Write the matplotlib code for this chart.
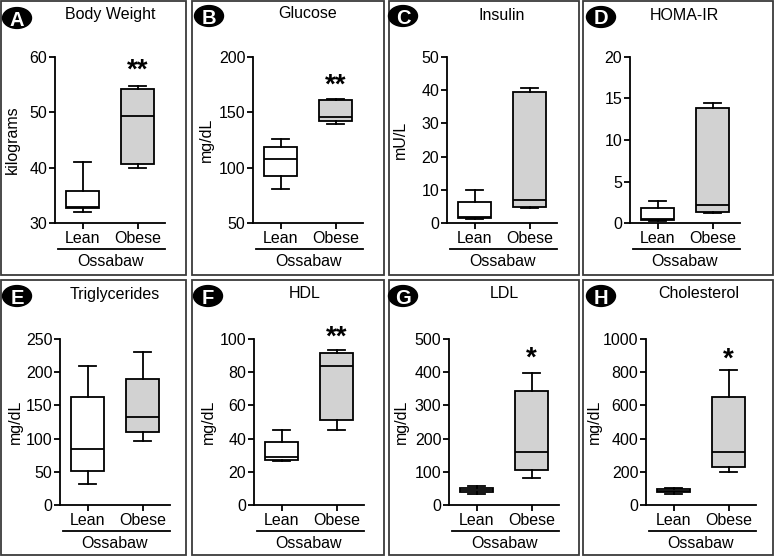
import matplotlib
matplotlib.use("Agg")
import matplotlib.pyplot as plt
from matplotlib.patches import Rectangle, Circle
from matplotlib.lines import Line2D

plt.rcParams['font.family'] = ['Liberation Sans', 'DejaVu Sans']

# ---------------- data ----------------
titles = ["Body Weight", "Glucose", "Insulin", "HOMA-IR",
          "Triglycerides", "HDL", "LDL", "Cholesterol"]
panel_letters = ["A", "B", "C", "D", "E", "F", "G", "H"]
ylabels = ["kilograms", "mg/dL", "mU/L", "", "mg/dL", "mg/dL", "mg/dL", "mg/dL"]
groups = ["Lean", "Obese"]
strain = "Ossabaw"

# box statistics: [whisker low, Q1, median, Q3, whisker high]
lean_stats = [
    [32.0, 32.7, 32.9, 35.7, 41.0],
    [80.7, 92.8, 107.8, 118.7, 125.6],
    [1.3, 1.6, 1.9, 6.4, 9.8],
    [0.2, 0.36, 0.48, 1.76, 2.7],
    [31, 51.7, 84, 162, 208.8],
    [26.8, 27.1, 28.7, 37.8, 45.2],
    [34, 39, 45, 52, 57],
    [66, 78, 86, 96, 102],
]
obese_stats = [
    [39.9, 40.7, 49.4, 54.2, 54.8],
    [139.5, 141.9, 145.8, 160.8, 162.0],
    [4.4, 4.7, 7.0, 39.5, 40.8],
    [1.2, 1.28, 2.16, 13.9, 14.5],
    [96, 109.5, 132.5, 190, 230],
    [45.2, 51.2, 83.7, 91.6, 93.4],
    [80, 106, 160, 342, 398],
    [201, 231, 319, 649, 811],
]
yticks = [
    [30, 40, 50, 60],
    [50, 100, 150, 200],
    [0, 10, 20, 30, 40, 50],
    [0, 5, 10, 15, 20],
    [0, 50, 100, 150, 200, 250],
    [0, 20, 40, 60, 80, 100],
    [0, 100, 200, 300, 400, 500],
    [0, 200, 400, 600, 800, 1000],
]
stars = ["**", "**", "", "", "", "**", "*", "*"]
star_y = [57.5, 174, None, None, None, 101, 440, 875]

# ---------------- layout (pixels) ----------------
W, H = 774, 556
fig = plt.figure(figsize=(W / 100, H / 100), dpi=100)

def fx(x):
    return x / W

def fy(y):
    return 1 - y / H

frames = [(1, 1, 186, 275), (192, 1, 384, 275), (389, 1, 579, 275), (583, 1, 773, 275),
          (1, 280, 186, 555), (192, 280, 384, 555), (389, 280, 579, 555), (583, 280, 773, 555)]
axis_left = [55, 253, 447, 630, 60, 254, 449, 646]
axis_width = 110
row_top = [57, 339]
row_bot = [223, 505]
title_pos = [(110, 14), (308, 14), (502, 15), (684, 15),
             (115, 294), (305, 294), (504, 294), (699, 294)]
circle_pos = [(17, 18), (209, 16), (403, 16), (601, 17),
              (17, 296), (208, 296), (403, 296), (601, 296)]
ylabel_x = [12, 206, 400, None, 15, 208, 401, 594]

FS = 11.5
gray = "#d2d2d2"

for i in range(8):
    x0, y0, x1, y1 = frames[i]
    fig.patches.append(Rectangle((fx(x0), fy(y1)), fx(x1) - fx(x0), fy(y0) - fy(y1),
                                 transform=fig.transFigure, fill=False,
                                 edgecolor="#3a3a3a", linewidth=1.3, zorder=0))
    r = i // 4
    top, bot = row_top[r], row_bot[r]
    L = axis_left[i]
    ax = fig.add_axes([fx(L), fy(bot), axis_width / W, (bot - top) / H])
    ls = lean_stats[i]
    os_ = obese_stats[i]
    stats = []
    for s, lab in ((ls, groups[0]), (os_, groups[1])):
        stats.append(dict(whislo=s[0], q1=s[1], med=s[2], q3=s[3], whishi=s[4],
                          fliers=[], label=lab))
    bp = ax.bxp(stats, positions=[1, 2], widths=0.6, patch_artist=True,
                showfliers=False,
                boxprops=dict(linewidth=1.3, edgecolor="black"),
                medianprops=dict(linewidth=1.3, color="black"),
                whiskerprops=dict(linewidth=1.3, color="black"),
                capprops=dict(linewidth=1.3, color="black"))
    bp['boxes'][0].set_facecolor("white")
    bp['boxes'][1].set_facecolor(gray)
    yt = yticks[i]
    ax.set_ylim(yt[0], yt[-1])
    ax.set_yticks(yt)
    ax.set_xlim(0.5, 2.5)
    ax.set_xticks([1, 2])
    ax.set_xticklabels(groups)
    for sp in ("top", "right"):
        ax.spines[sp].set_visible(False)
    for sp in ("left", "bottom"):
        ax.spines[sp].set_linewidth(1.3)
    ax.tick_params(axis="y", direction="out", length=4.5, width=1.3, pad=1, labelsize=FS)
    ax.tick_params(axis="x", direction="out", length=4, width=1.3, pad=2, labelsize=FS)
    ax.patch.set_alpha(0)

    # Ossabaw group line and label
    h = bot - top
    ax.add_line(Line2D([0.03, 1.0], [-26 / h, -26 / h], transform=ax.transAxes,
                       color="black", linewidth=1.3, clip_on=False))
    ax.text(0.5, -38 / h, strain, transform=ax.transAxes, ha="center", va="center",
            fontsize=FS)

    if stars[i]:
        ax.text(2, star_y[i], stars[i], ha="center", va="center", fontsize=20,
                fontweight="bold", clip_on=False)

    # title
    tx, ty = title_pos[i]
    fig.text(fx(tx), fy(ty), titles[i], ha="center", va="center", fontsize=FS)
    # panel letter circle
    cx, cy = circle_pos[i]
    fig.patches.append(Circle((fx(cx), fy(cy)), 14.5 / W, transform=fig.transFigure,
                              facecolor="black", edgecolor="black"))
    fig.text(fx(cx), fy(cy), panel_letters[i], ha="center", va="center_baseline",
             fontsize=14.5, fontweight="bold", color="white")
    if ylabels[i]:
        fig.text(fx(ylabel_x[i]), fy((top + bot) / 2), ylabels[i], rotation=90,
                 ha="center", va="center", fontsize=FS)

fig.savefig("out.png", dpi=100)
